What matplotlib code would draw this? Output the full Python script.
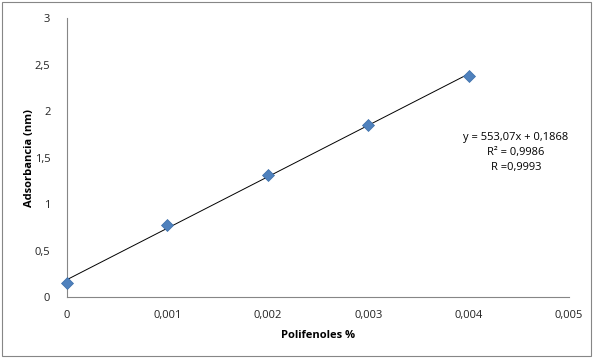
import numpy as np
import matplotlib.pyplot as plt
from matplotlib.ticker import FuncFormatter

# data
polifenoles = [0.0, 0.001, 0.002, 0.003, 0.004]
absorbancia = [0.15, 0.775, 1.31, 1.85, 2.375]
slope = 553.07
intercept = 0.1868
eq_text = "y = 553,07x + 0,1868\nR² = 0,9986\nR =0,9993"

plt.rc('font', family=['Open Sans', 'DejaVu Sans'])

fig = plt.figure(figsize=(5.93, 3.59), dpi=100)
ax = fig.add_axes([0.113, 0.1727, 0.8465, 0.777])

# trendline
xt = np.array([polifenoles[0], polifenoles[-1]])
ax.plot(xt, slope * xt + intercept, color='black', lw=0.7, zorder=2)

# points
ax.plot(polifenoles, absorbancia, 'D', color='#4F81BD', markersize=6,
        markeredgecolor='#3A6DA8', markeredgewidth=0.5, zorder=3, clip_on=False)

ax.set_xlim(0, 0.005)
ax.set_ylim(0, 3)
ax.set_xticks(np.arange(0, 0.0051, 0.001))
ax.set_yticks(np.arange(0, 3.1, 0.5))

fmt = lambda v, p: ('%g' % round(v, 4)).replace('.', ',')
ax.xaxis.set_major_formatter(FuncFormatter(fmt))
ax.yaxis.set_major_formatter(FuncFormatter(fmt))

for s in ['top', 'right']:
    ax.spines[s].set_visible(False)
for s in ['left', 'bottom']:
    ax.spines[s].set_color('#868686')
    ax.spines[s].set_linewidth(0.8)
ax.tick_params(length=0, labelsize=8, colors='#222222', pad=9)
ax.tick_params(axis='y', pad=12)

ax.set_xlabel('Polifenoles %', fontsize=8, fontweight='bold', labelpad=7)
ax.set_ylabel('Adsorbancia (nm)', fontsize=8, fontweight='bold', labelpad=0)

ax.text(0.00447, 1.77, eq_text, ha='center', va='top', fontsize=8,
        linespacing=1.45)

# outer frame
fig.patches.append(plt.Rectangle((0.004, 0.008), 0.992, 0.986, transform=fig.transFigure,
                                 fill=False, edgecolor='#868686', lw=0.8))

fig.savefig('out.png', dpi=100)
